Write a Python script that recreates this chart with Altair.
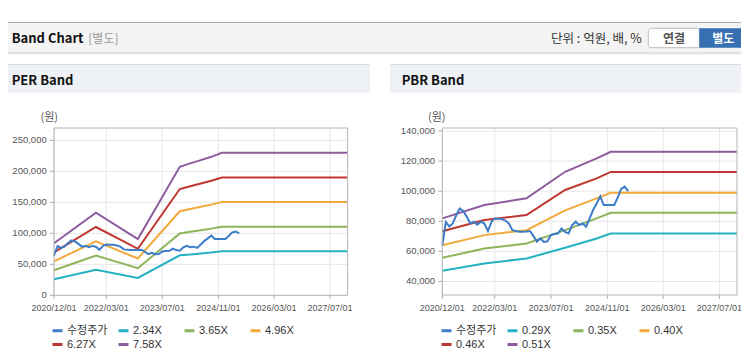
import altair as alt
import pandas as pd

FONT_KR = "Noto Sans CJK KR"
FONT_NUM = "Liberation Sans"

# ---------------- data ----------------
price_name = "수정주가"
price_dates = list(pd.date_range("2020-12-01", periods=54, freq="MS").strftime("%Y/%m/%d"))
price_values = [64000, 79500, 76500, 78500, 84000, 88500, 86800, 83000, 78600, 79700, 77800, 79700, 78500,
                73500, 79700, 81900, 81700, 81500, 80500, 78600, 74100, 73500, 73000, 73000, 73200,
                73500, 70000, 66500, 68600, 66300, 66700, 70800, 71500, 71900, 75200, 73000, 71900,
                77500, 79700, 77500, 78500, 76400, 82000, 87500, 91900, 96500, 90800, 90800, 90800,
                90800, 96000, 101500, 103000, 100000]

per_dates = ["2020/12/01", "2021/12/01", "2022/12/01", "2023/12/01", "2024/03/01",
             "2024/06/01", "2024/09/01", "2024/12/01", "2027/12/01"]
per_names = ["2.34X", "3.65X", "4.96X", "6.27X", "7.58X"]
per_234 = [25900, 41100, 28000, 64500, 65700, 67400, 69000, 71000, 71000]
per_365 = [40400, 64100, 43700, 99900, 102500, 105100, 107600, 110700, 110700]
per_496 = [54900, 87100, 59400, 135700, 139300, 142800, 146300, 150500, 150500]
per_627 = [69400, 110200, 75100, 171500, 176100, 180500, 184900, 190200, 190200]
per_758 = [83900, 133200, 90800, 207400, 212900, 218200, 223500, 230000, 230000]

pbr_dates = ["2020/12/01", "2021/12/01", "2022/12/01", "2023/11/01", "2024/08/01",
             "2024/12/01", "2027/12/01"]
pbr_names = ["0.29X", "0.35X", "0.40X", "0.46X", "0.51X"]
pbr_029 = [47100, 52000, 55300, 62400, 68600, 71800, 71800]
pbr_035 = [55700, 61900, 65300, 74100, 81900, 85600, 85600]
pbr_040 = [64100, 70800, 74100, 87300, 95200, 98900, 98900]
pbr_046 = [73400, 80800, 84100, 100800, 108500, 112800, 112800]
pbr_051 = [81900, 90800, 95300, 112900, 121800, 126200, 126200]

x_ticks = ["2020/12/01", "2022/03/01", "2023/07/01", "2024/11/01", "2026/03/01", "2027/07/01"]
per_yticks = [0, 50000, 100000, 150000, 200000, 250000]
pbr_yticks = [40000, 60000, 80000, 100000, 120000, 140000]
per_ydom = [0, 270000]
pbr_ydom = [31000, 142000]

series_colors = ["#3d7cc9", "#24b1c3", "#8db55a", "#f3aa3c", "#bf3630", "#8e5b9e"]

# ---------------- helpers ----------------
W, H = 733, 348
one = pd.DataFrame({"k": [0]})


def dt(s):
    y, m, d = s.split("/")
    return alt.DateTime(year=int(y), month=int(m), date=int(d))


X_START, X_END = dt("2020/12/01"), dt("2027/12/01")


def box(x, x2, y, y2, fill, **kw):
    return alt.Chart(one).mark_rect(fill=fill, **kw).encode(
        x=alt.value(x), x2=alt.value(x2), y=alt.value(y), y2=alt.value(y2))


def hline(x, x2, y, color):
    return alt.Chart(one).mark_rule(color=color, strokeWidth=1).encode(
        x=alt.value(x), x2=alt.value(x2), y=alt.value(y))


def label(txt, x, y, size, color, weight="normal", align="left", font=FONT_KR):
    return alt.Chart(one).mark_text(text=txt, fontSize=size, color=color, fontWeight=weight,
                                    align=align, baseline="middle", font=font).encode(
        x=alt.value(x), y=alt.value(y))


def panel(band_dates, band_lists, names, ydom, yticks, xr, yr, legx, legy):
    all_names = [price_name] + names
    rows = []
    for nm, vals in zip(names, band_lists):
        for d, v in zip(band_dates, vals):
            rows.append({"date": d, "value": v, "series": nm})
    band_df = pd.DataFrame(rows)
    price_df = pd.DataFrame({"date": price_dates, "value": price_values, "series": price_name})
    xt_df = pd.DataFrame({"d": x_ticks, "lab": x_ticks})
    yt_df = pd.DataFrame({"v": yticks})

    xs = alt.Scale(type="time", domain=[X_START, X_END], range=xr, nice=False)
    ys = alt.Scale(domain=ydom, range=yr, nice=False, zero=False)
    cs = alt.Scale(domain=all_names, range=series_colors)

    leg = alt.Legend(orient="none", legendX=legx, legendY=legy, direction="horizontal",
                     columns=4, gridAlign="all", symbolType="stroke", symbolSize=100,
                     symbolStrokeWidth=3, labelFont=FONT_NUM + ", " + FONT_KR, labelFontSize=11,
                     labelColor="#333", columnPadding=4, rowPadding=1, labelOffset=3,
                     symbolOffset=0, padding=0)

    ygrid = alt.Chart(yt_df).mark_rule(color="#e6e6e6").encode(
        y=alt.Y("v:Q", scale=ys, axis=None),
        x=alt.XDatum(X_START, type="temporal", scale=xs, axis=None),
        x2=alt.X2Datum(X_END))
    xgrid = alt.Chart(xt_df).mark_rule(color="#e6e6e6").encode(
        x=alt.X("d:T", scale=xs, axis=None),
        y=alt.YDatum(ydom[0], type="quantitative", scale=ys, axis=None),
        y2=alt.Y2Datum(ydom[1]))
    xticks = alt.Chart(xt_df).mark_rule(color="#aaaaaa").encode(
        x=alt.X("d:T", scale=xs, axis=None),
        y=alt.value(yr[0]), y2=alt.value(yr[0] + 4))
    xlabels = alt.Chart(xt_df).mark_text(font=FONT_NUM, fontSize=9, color="#555",
                                         baseline="middle", align="center").encode(
        x=alt.X("d:T", scale=xs, axis=None),
        y=alt.value(yr[0] + 12.5), text="lab:N")
    yticks_m = alt.Chart(yt_df).mark_rule(color="#aaaaaa").encode(
        y=alt.Y("v:Q", scale=ys, axis=None),
        x=alt.value(xr[0] - 4), x2=alt.value(xr[0]))
    ylabels = alt.Chart(yt_df).mark_text(font=FONT_NUM, fontSize=9.5, color="#555",
                                         baseline="middle", align="right").encode(
        y=alt.Y("v:Q", scale=ys, axis=None),
        x=alt.value(xr[0] - 7.3), text=alt.Text("v:Q", format=",d"))
    bands = alt.Chart(band_df).mark_line(strokeWidth=2).encode(
        x=alt.X("date:T", scale=xs, axis=None),
        y=alt.Y("value:Q", scale=ys, axis=None),
        color=alt.Color("series:N", scale=cs, legend=leg, title=None))
    price = alt.Chart(price_df).mark_line(strokeWidth=2).encode(
        x=alt.X("date:T", scale=xs, axis=None),
        y=alt.Y("value:Q", scale=ys, axis=None),
        color=alt.Color("series:N", scale=cs, legend=leg, title=None))
    frame = alt.Chart(one).mark_rect(fillOpacity=0, stroke="#b4b4b4", strokeWidth=1).encode(
        x=alt.XDatum(X_START, type="temporal", scale=xs, axis=None),
        x2=alt.X2Datum(X_END),
        y=alt.YDatum(ydom[0], type="quantitative", scale=ys, axis=None),
        y2=alt.Y2Datum(ydom[1]))
    return alt.layer(ygrid, xgrid, xticks, xlabels, yticks_m, ylabels, bands, price, frame)


# ---------------- decorations ----------------
deco = [
    hline(0, W, 14.5, "#a8a8a8"),
    box(0, W, 15, 44.5, "#f4f4f4"),
    hline(0, W, 45, "#c4c4c4"),
    hline(0, W, 46, "#e6e6e6"),
    label("Band Chart", 3.7, 30.5, 13, "#111", weight="bold"),
    label("[별도]", 80.3, 30.5, 12, "#999"),
    label("단위 : 억원, 배, %", 633.7, 31, 12.5, "#333", align="right"),
    box(640.3, 691.3, 20.3, 39.7, "#ffffff", stroke="#bdbdbd", strokeWidth=1,
        cornerRadiusTopLeft=3, cornerRadiusBottomLeft=3),
    label("연결", 666, 30.5, 12, "#555", weight="bold", align="center"),
    box(691.3, 741, 20.3, 39.7, "#3670b2"),
    label("별도", 715.3, 30.5, 12, "#ffffff", weight="bold", align="center"),
    hline(0, 362, 56.5, "#dcdcdc"),
    box(0, 362, 57, 84.7, "#eef1f6"),
    hline(382, W, 56.5, "#dcdcdc"),
    box(382, W, 57, 84.7, "#eef1f6"),
    label("PER Band", 3.7, 72.7, 13, "#111", weight="bold"),
    label("PBR Band", 393.7, 72.7, 13, "#111", weight="bold"),
    label("(원)", 41.3, 109.7, 11, "#555", align="center"),
    label("(원)", 428.7, 110.3, 11, "#555", align="center"),
]

per_panel = panel(per_dates, [per_234, per_365, per_496, per_627, per_758], per_names,
                  per_ydom, per_yticks, [46, 339.6], [287.3, 120], 43, 316)
pbr_panel = panel(pbr_dates, [pbr_029, pbr_035, pbr_040, pbr_046, pbr_051], pbr_names,
                  pbr_ydom, pbr_yticks, [434.3, 729], [287, 120], 432, 316)

chart = alt.layer(*deco, per_panel, pbr_panel).resolve_scale(
    x="independent", y="independent", color="independent"
).properties(
    width=W, height=H, autosize=alt.AutoSizeParams(type="none"), padding=0,
    background="#ffffff"
).configure_view(strokeWidth=0)

chart.save("out.html", embed_options={"renderer": "svg", "actions": False})
